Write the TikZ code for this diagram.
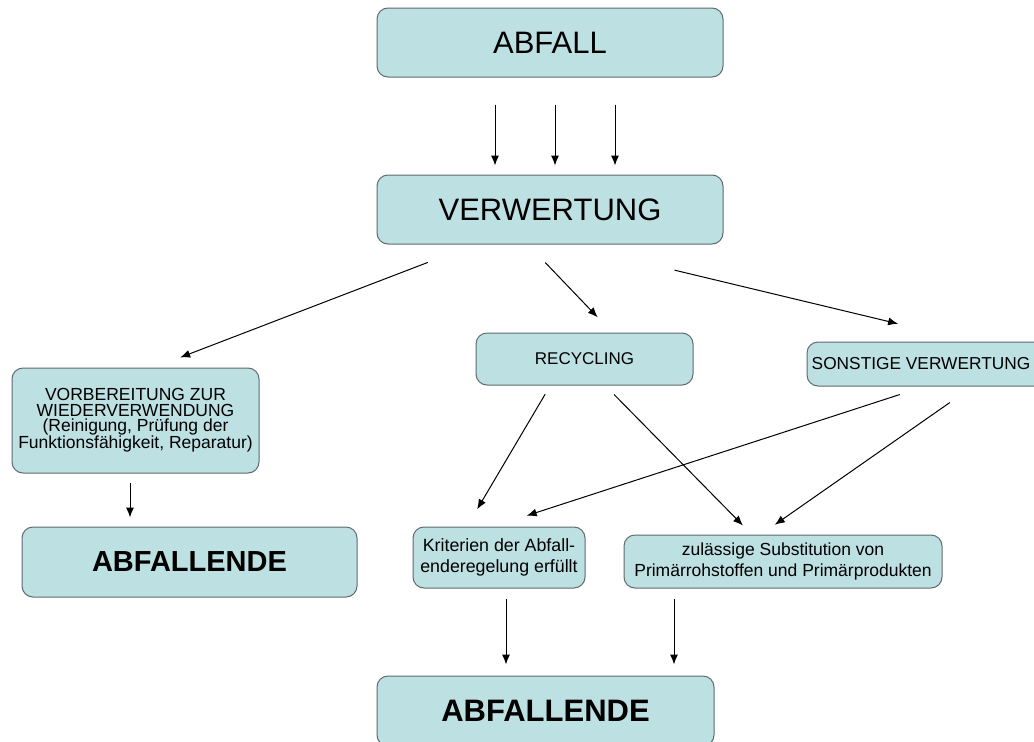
\documentclass[tikz,border=0pt]{standalone}
\usepackage{fontspec}
\setmainfont{Liberation Sans}
\usetikzlibrary{arrows.meta}
\definecolor{boxfill}{HTML}{BDE0E3}
\definecolor{boxline}{HTML}{5F6B6D}
\tikzstyle{block} = [rectangle, draw=boxline, line width=1pt, fill=boxfill, text centered, align=center, rounded corners=11pt, inner sep=0pt]
\tikzstyle{line} = [draw, line width=1pt, -{Latex[length=10pt,width=8pt]}]

\begin{document}
\begin{tikzpicture} [x=1pt, y=-1pt]
\clip (0,0) rectangle (1034,742);
\fill [white] (0,0) rectangle (1034,742);
% Place nodes
\node [block, minimum width=346pt, minimum height=69pt, font=\fontsize{31}{36}\selectfont] (abfall) at (550,42.5) {ABFALL};
\node [block, minimum width=346pt, minimum height=69pt, font=\fontsize{31}{36}\selectfont] (verw) at (550,209.5) {VERWERTUNG};
\node [block, minimum width=247pt, minimum height=105pt, font=\fontsize{17.5}{15.5}\selectfont] (vorb) at (135.5,420.5) {VORBEREITUNG ZUR\\WIEDERVERWENDUNG\\(Reinigung, Prüfung der\\Funktionsfähigkeit, Reparatur)};
\node [block, minimum width=335pt, minimum height=70pt, font=\fontsize{29}{34}\selectfont\bfseries] (endleft) at (189.5,562) {ABFALLENDE};
\node [block, minimum width=217pt, minimum height=52pt, font=\fontsize{17}{20}\selectfont] (recyc) at (584.5,359) {RECYCLING};
\node [block, minimum width=240pt, minimum height=44pt, font=\fontsize{17.3}{20}\selectfont] (sonst) at (927,364) {\hspace*{-12pt}SONSTIGE VERWERTUNG};
\node [block, minimum width=172pt, minimum height=61pt, font=\fontsize{17.8}{21}\selectfont] (krit) at (499,557.5) {Kriterien der Abfall-\\enderegelung erfüllt};
\node [block, minimum width=318pt, minimum height=53pt, font=\fontsize{17.5}{21}\selectfont] (zul) at (783,561.5) {zulässige Substitution von\\Primärrohstoffen und Primärprodukten};
\node [block, minimum width=337pt, minimum height=70pt, font=\fontsize{31}{36}\selectfont\bfseries] (endbot) at (545.5,711) {ABFALLENDE};
% Draw edges
\path [line, shorten <=27pt, shorten >=9pt] ([xshift=-55pt]abfall.south) -- ([xshift=-55pt]verw.north);
\path [line, shorten <=27pt, shorten >=9pt] ([xshift=5pt]abfall.south) -- ([xshift=5pt]verw.north);
\path [line, shorten <=27pt, shorten >=9pt] ([xshift=65pt]abfall.south) -- ([xshift=65pt]verw.north);
\path [line, shorten <=50pt, shorten >=28pt] ([xshift=-75.5pt]verw.south) -- ([xshift=18.5pt]vorb.north);
\path [line, shorten <=25pt, shorten >=21pt] ([xshift=-22pt]verw.south) -- ([xshift=27.7pt]recyc.north);
\path [line, shorten <=110pt, shorten >=76pt] ([xshift=17.6pt]verw.south) -- ([xshift=45pt]sonst.north);
\path [line, shorten <=9pt, shorten >=9pt] ([xshift=-5.5pt]vorb.south) -- ([xshift=-59.5pt]endleft.north);
\path [line, shorten <=10pt, shorten >=20pt] ([xshift=-34.2pt]recyc.south) -- ([xshift=-32pt]krit.north);
\path [line, shorten <=12.6pt, shorten >=12.6pt] ([xshift=20.7pt]recyc.south) -- ([xshift=-31.2pt]zul.north);
\path [line, shorten <=26pt, shorten >=35pt] ([xshift=-2.5pt]sonst.south) -- ([xshift=-5.6pt]krit.north);
\path [line, shorten <=28pt, shorten >=17pt] ([xshift=45.8pt]sonst.south) -- ([xshift=-22.2pt]zul.north);
\path [line, shorten <=10pt, shorten >=11pt] ([xshift=7pt]krit.south) -- ([xshift=-39.5pt]endbot.north);
\path [line, shorten <=10pt, shorten >=11pt] ([xshift=-109pt]zul.south) -- ([xshift=128.5pt]endbot.north);

\end{tikzpicture}
\end{document}
